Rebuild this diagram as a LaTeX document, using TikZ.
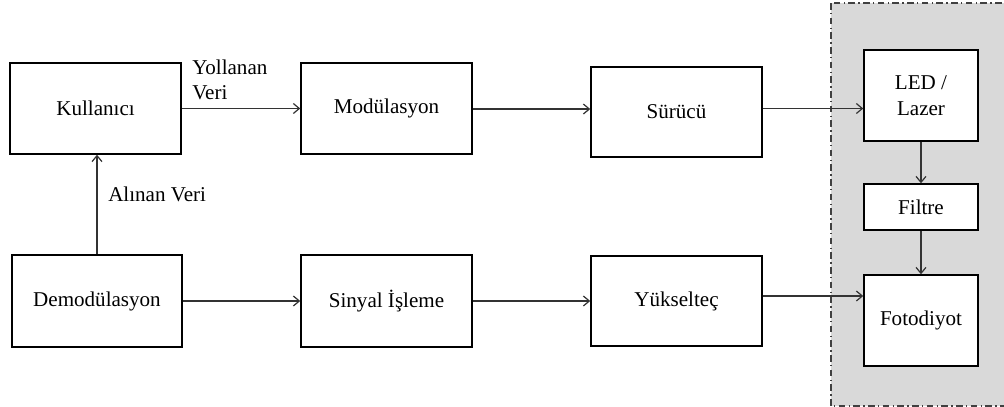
\documentclass[tikz,border=0pt]{standalone}
\usepackage{fontspec}
\setmainfont{Liberation Serif}
\usetikzlibrary{arrows.meta}
\begin{document}
\begin{tikzpicture}[x=0.75pt,y=-0.75pt,
  font=\fontsize{15.8}{19}\selectfont,
  blk/.style={draw=black,line width=1.1pt,fill=white,inner sep=0pt,align=center},
  arr/.style={draw=black!80,line width=0.9pt,-{Straight Barb[length=4.5pt,width=7.5pt,line width=0.9pt]}},
  lbl/.style={inner sep=0pt,align=left,anchor=west},
  zone/.style={fill=black!15,draw=black!75,line width=0.9pt,dash pattern=on 5pt off 2.5pt on 1pt off 2.5pt}]
\useasboundingbox (0,0) rectangle (1004,407);
\begin{scope}
\clip (0,0) rectangle (1004,407);
\path[zone] (831,3) rectangle (1012,406);
\end{scope}
\node[blk,minimum width=128.25pt,minimum height=68.25pt] (kul) at (95.5,108.5) {Kullanıcı};
\node[blk,minimum width=128.25pt,minimum height=68.25pt] (mod) at (386.5,108.5) {Modülasyon};
\node[blk,minimum width=128.25pt,minimum height=67.5pt] (sur) at (676.5,112) {Sürücü};
\node[blk,minimum width=85.5pt,minimum height=68.25pt] (led) at (921,95.5) {LED /\\Lazer};
\node[blk,minimum width=85.5pt,minimum height=34.5pt] (fil) at (921,207) {Filtre};
\node[blk,minimum width=85.5pt,minimum height=68.25pt] (foto) at (921,320.5) {Fotodiyot};
\node[blk,minimum width=127.5pt,minimum height=69pt] (dem) at (97,301) {Demodülasyon};
\node[blk,minimum width=128.25pt,minimum height=69pt] (sin) at (386.5,301) {Sinyal İşleme};
\node[blk,minimum width=128.25pt,minimum height=67.5pt] (yuk) at (676.5,301) {Yükselteç};
\node[lbl] (yv) at (192,80) {Yollanan\\Veri};
\node[lbl] (av) at (108,194) {Alınan Veri};
\draw[arr] (kul.east) -- (mod.west);
\draw[arr] ([yshift=-0.4pt]mod.east) -- ([yshift=-0.4pt]mod.east -| sur.west);
\draw[arr] (sur.east |- mod.east) -- (led.west |- mod.east);
\draw[arr] (led.south) -- (fil.north);
\draw[arr] (fil.south) -- (foto.north);
\draw[arr] ([yshift=3.75pt]yuk.east) -- ([yshift=3.75pt]yuk.east -| foto.west);
\draw[arr] (dem.east) -- (sin.west);
\draw[arr] (sin.east) -- (sin.east -| yuk.west);
\draw[arr] (dem.north) -- (dem.north |- kul.south);
\end{tikzpicture}
\end{document}
